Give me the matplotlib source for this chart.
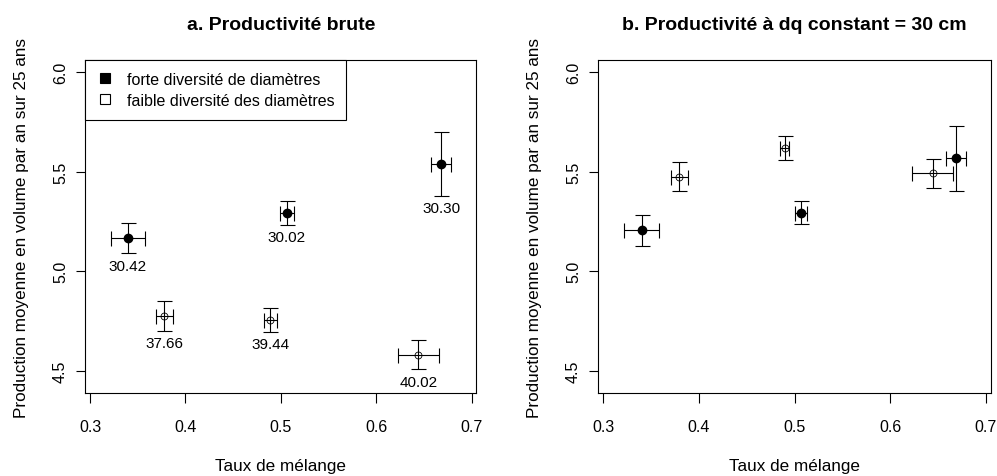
import matplotlib
matplotlib.use("Agg")
import matplotlib.pyplot as plt
from matplotlib.lines import Line2D

plt.rcParams['font.family'] = ['Liberation Sans', 'DejaVu Sans']

# a. productivite brute
a_fort_x = [0.3395, 0.506, 0.668]
a_fort_y = [5.167, 5.295, 5.539]
a_fort_xerr = [0.018, 0.0074, 0.0107]
a_fort_yerr = [0.076, 0.060, 0.160]
a_fort_lab = ["30.42", "30.02", "30.30"]

a_faible_x = [0.378, 0.489, 0.644]
a_faible_y = [4.775, 4.755, 4.580]
a_faible_xerr = [0.0088, 0.0070, 0.0214]
a_faible_yerr = [0.075, 0.058, 0.0725]
a_faible_lab = ["37.66", "39.44", "40.02"]

# b. productivite a dq constant
b_fort_x = [0.340, 0.5066, 0.669]
b_fort_y = [5.207, 5.295, 5.567]
b_fort_xerr = [0.018, 0.006, 0.0101]
b_fort_yerr = [0.078, 0.058, 0.161]

b_faible_x = [0.3796, 0.4898, 0.6445]
b_faible_y = [5.475, 5.620, 5.493]
b_faible_xerr = [0.009, 0.0047, 0.0213]
b_faible_yerr = [0.074, 0.062, 0.072]

xticks = [0.3, 0.4, 0.5, 0.6, 0.7]
yticks = [4.5, 5.0, 5.5, 6.0]

FS_TICK = 11.5
FS_LAB = 12.3


def draw_group(ax, x, y, xerr, yerr, filled):
    ax.errorbar(x, y, xerr=xerr, yerr=yerr, fmt='none', ecolor='black',
                elinewidth=0.8, capsize=5.4, capthick=0.8, zorder=2)
    if filled:
        ax.plot(x, y, 'o', color='black', markersize=6, zorder=3)
    else:
        ax.plot(x, y, 'o', mfc='none', mec='black', mew=0.6,
                markersize=5, zorder=3)


def style_axes(ax, xlim, title):
    ax.set_xlim(*xlim)
    ax.set_ylim(4.388, 6.062)
    ax.set_xticks(xticks)
    ax.set_xticklabels([f"{v:.1f}" for v in xticks], fontsize=FS_TICK)
    ax.set_yticks(yticks)
    ax.set_yticklabels([f"{v:.1f}" for v in yticks], fontsize=FS_TICK,
                       rotation=90, va='center')
    ax.tick_params(axis='x', direction='out', length=7.5, width=0.8, pad=11)
    ax.tick_params(axis='y', direction='out', length=6.5, width=0.8, pad=6)
    for s in ax.spines.values():
        s.set_linewidth(0.8)
    ax.set_xlabel("Taux de mélange", fontsize=FS_LAB, labelpad=17.5)
    ax.set_ylabel("Production moyenne en volume par an sur 25 ans",
                  fontsize=FS_LAB, labelpad=17)
    ax.set_title(title, fontsize=14, fontweight='bold', pad=22)


fig = plt.figure(figsize=(9.97, 4.77), dpi=100)
ax1 = fig.add_axes([0.0856, 0.174, 0.3922, 0.6981])
ax2 = fig.add_axes([0.6001, 0.174, 0.3936, 0.6981])

draw_group(ax1, a_fort_x, a_fort_y, a_fort_xerr, a_fort_yerr, True)
draw_group(ax1, a_faible_x, a_faible_y, a_faible_xerr, a_faible_yerr, False)
for x, y, ye, lab in zip(a_fort_x + a_faible_x, a_fort_y + a_faible_y,
                         a_fort_yerr + a_faible_yerr, a_fort_lab + a_faible_lab):
    ax1.annotate(lab, (x, y - ye), xytext=(0, -9), textcoords='offset points',
                 ha='center', va='center', fontsize=11)
style_axes(ax1, (0.2951, 0.7048), "a. Productivité brute")

handles = [
    Line2D([], [], linestyle='none', marker='s', markersize=7.5,
           mfc='black', mec='black', mew=0.8),
    Line2D([], [], linestyle='none', marker='s', markersize=7.5,
           mfc='white', mec='black', mew=0.8),
]
leg = ax1.legend(handles, ["forte diversité de diamètres",
                           "faible diversité des diamètres"],
                 loc='upper left', borderaxespad=0, fancybox=False,
                 framealpha=1, edgecolor='black', fontsize=11.5,
                 handlelength=1.0, handletextpad=0.85, labelspacing=0.35,
                 borderpad=0.75)
leg.get_frame().set_linewidth(0.8)

draw_group(ax2, b_fort_x, b_fort_y, b_fort_xerr, b_fort_yerr, True)
draw_group(ax2, b_faible_x, b_faible_y, b_faible_xerr, b_faible_yerr, False)
style_axes(ax2, (0.2948, 0.7052), "b. Productivité à dq constant = 30 cm")

fig.savefig("out.png", dpi=100)
